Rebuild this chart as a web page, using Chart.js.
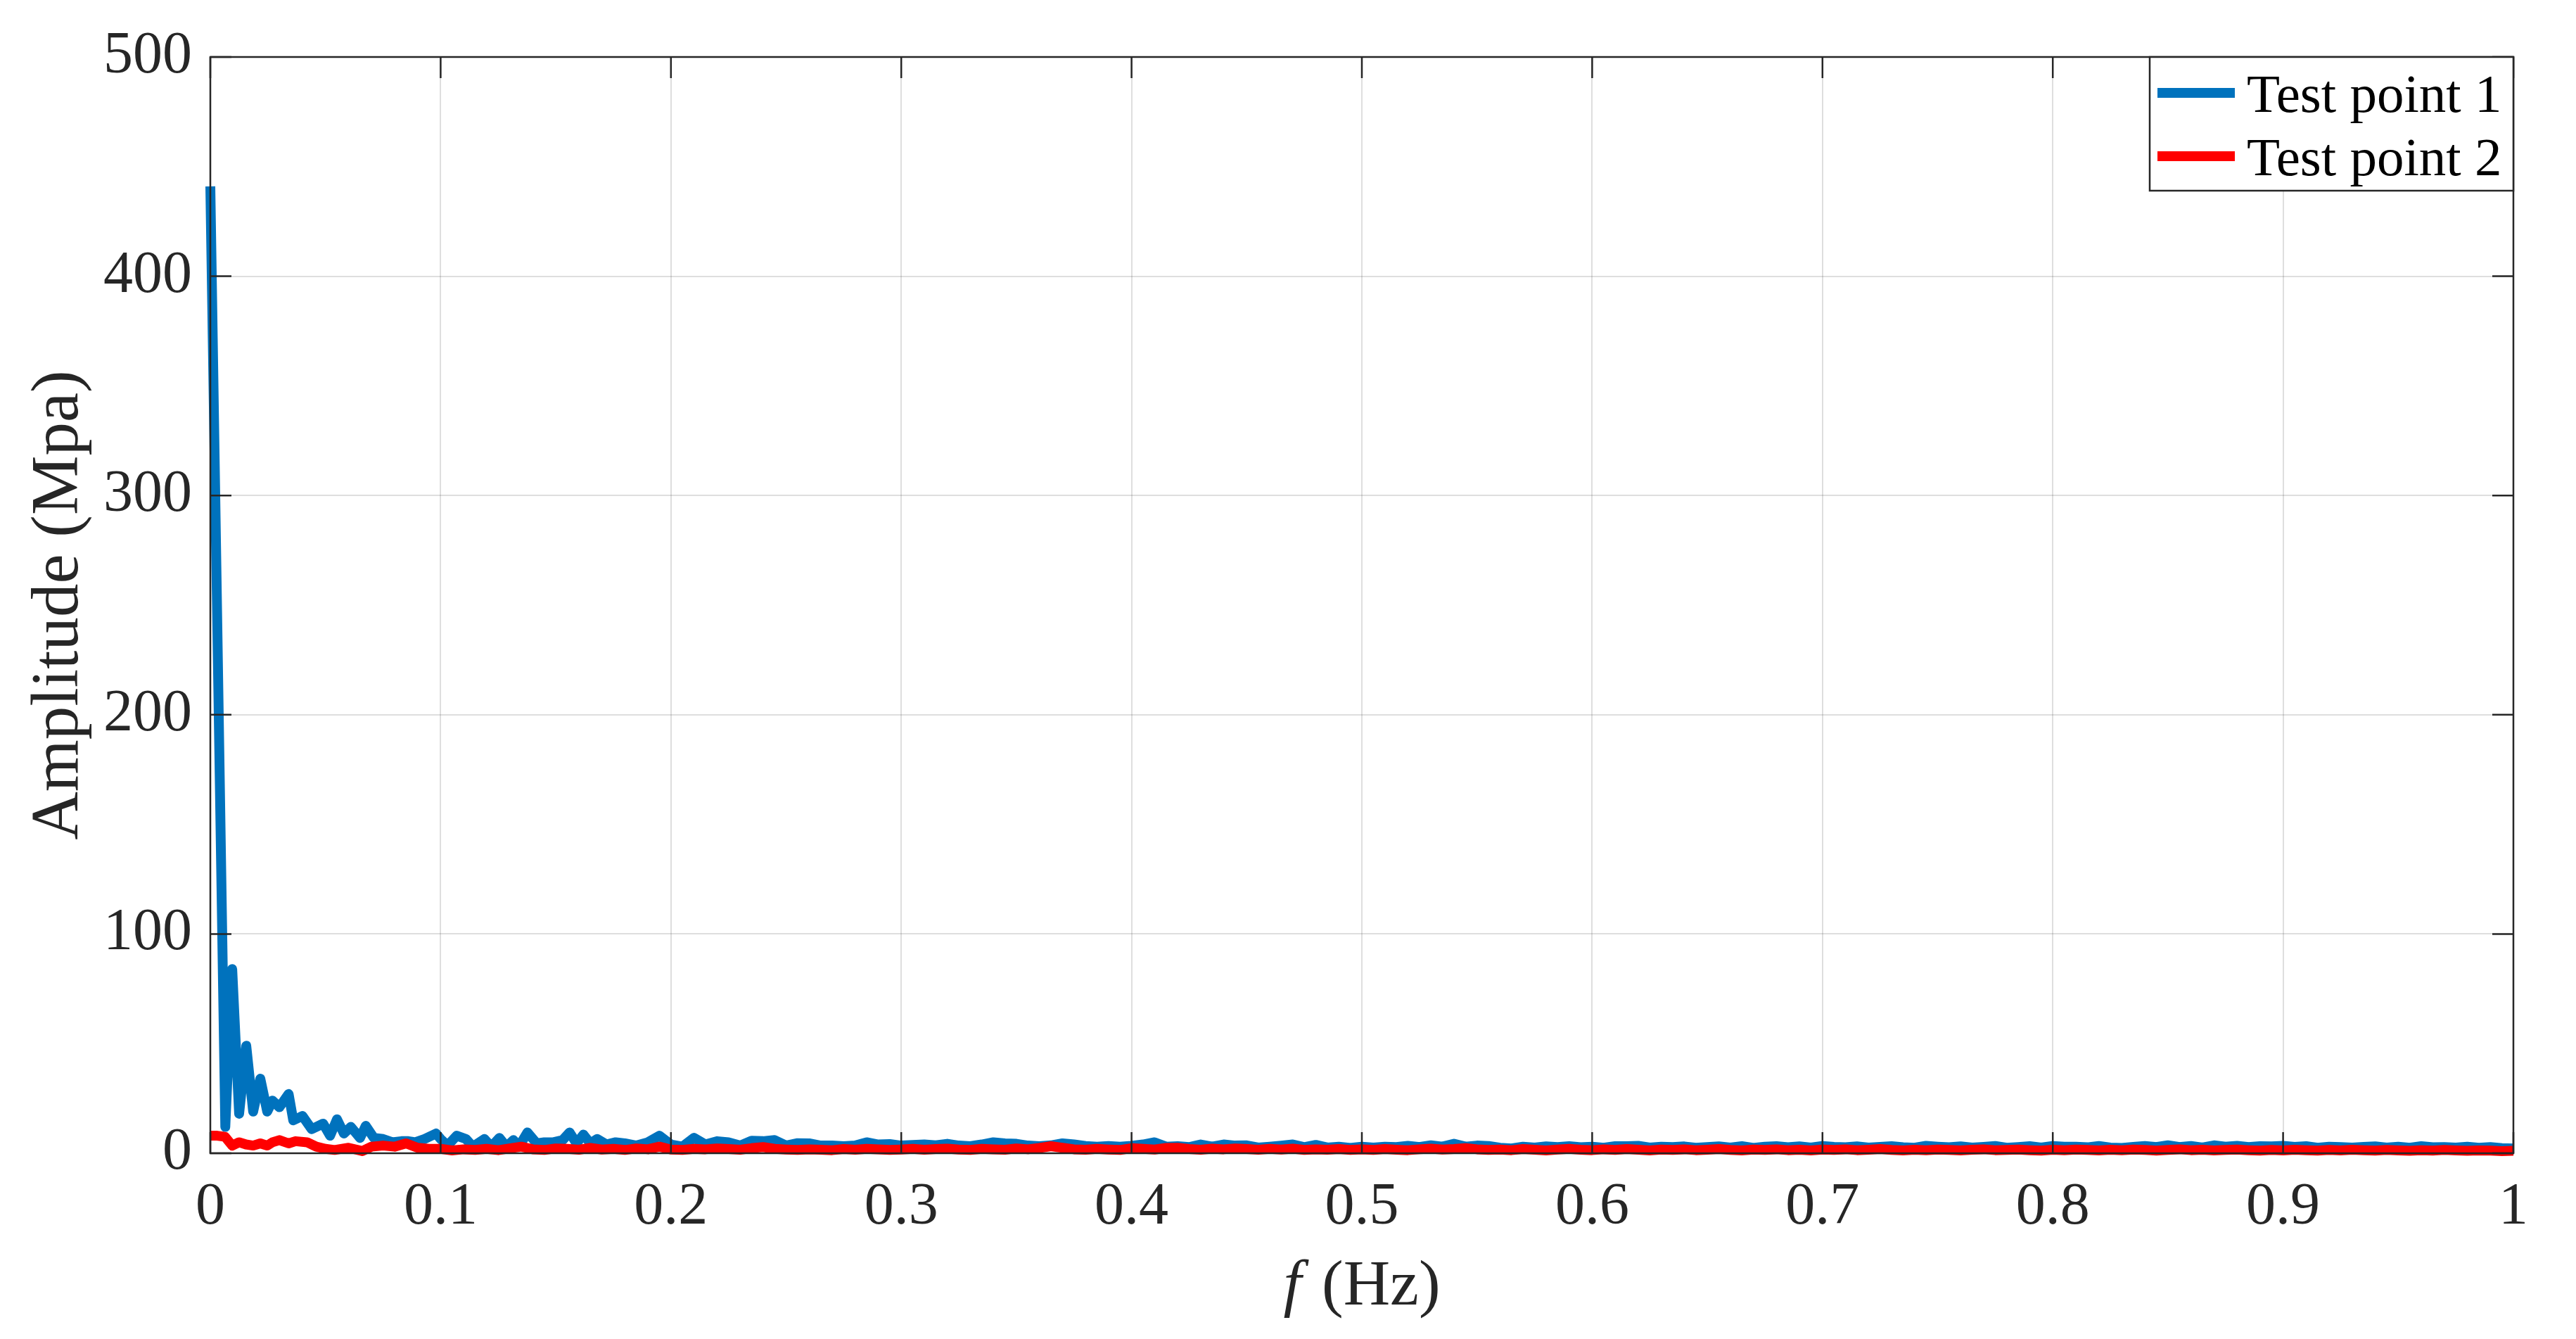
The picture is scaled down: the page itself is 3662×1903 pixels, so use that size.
<!DOCTYPE html>
<html>
<head>
<meta charset="utf-8">
<script src="https://cdn.jsdelivr.net/npm/chart.js@4.4.1/dist/chart.umd.min.js"></script>
<style>
html,body{margin:0;padding:0;background:#ffffff;}
#wrap{width:3662px;height:1903px;position:relative;}
canvas{display:block;}
</style>
</head>
<body>
<div id="wrap"><canvas id="c" width="3662" height="1903"></canvas></div>
<script>
// ---------------- data ----------------
const xTickValues = [0, 0.1, 0.2, 0.3, 0.4, 0.5, 0.6, 0.7, 0.8, 0.9, 1];
const xTickLabels = ['0', '0.1', '0.2', '0.3', '0.4', '0.5', '0.6', '0.7', '0.8', '0.9', '1'];
const yTickValues = [0, 100, 200, 300, 400, 500];
const yTickLabels = ['0', '100', '200', '300', '400', '500'];
const seriesNames = ['Test point 1', 'Test point 2'];
const xTitleItalic = 'f';
const xTitleRest = ' (Hz)';
const yTitle = 'Amplitude (Mpa)';

// frequency grid used for the tail of both spectra (0.100 ... 1.000)
const tailFreq = [
0.100,0.105,0.110,0.115,0.120,0.125,0.130,0.135,0.140,0.145,
0.150,0.155,0.160,0.165,0.170,0.175,0.180,0.185,0.190,0.195,
0.200,0.205,0.210,0.215,0.220,0.225,0.230,0.235,0.240,0.245,
0.250,0.255,0.260,0.265,0.270,0.275,0.280,0.285,0.290,0.295,
0.300,0.305,0.310,0.315,0.320,0.325,0.330,0.335,0.340,0.345,
0.350,0.355,0.360,0.365,0.370,0.375,0.380,0.385,0.390,0.395,
0.400,0.405,0.410,0.415,0.420,0.425,0.430,0.435,0.440,0.445,
0.450,0.455,0.460,0.465,0.470,0.475,0.480,0.485,0.490,0.495,
0.500,0.505,0.510,0.515,0.520,0.525,0.530,0.535,0.540,0.545,
0.550,0.555,0.560,0.565,0.570,0.575,0.580,0.585,0.590,0.595,
0.600,0.605,0.610,0.615,0.620,0.625,0.630,0.635,0.640,0.645,
0.650,0.655,0.660,0.665,0.670,0.675,0.680,0.685,0.690,0.695,
0.700,0.705,0.710,0.715,0.720,0.725,0.730,0.735,0.740,0.745,
0.750,0.755,0.760,0.765,0.770,0.775,0.780,0.785,0.790,0.795,
0.800,0.805,0.810,0.815,0.820,0.825,0.830,0.835,0.840,0.845,
0.850,0.855,0.860,0.865,0.870,0.875,0.880,0.885,0.890,0.895,
0.900,0.905,0.910,0.915,0.920,0.925,0.930,0.935,0.940,0.945,
0.950,0.955,0.960,0.965,0.970,0.975,0.980,0.985,0.990,0.995,
1.000];

// Test point 1 (blue): low-frequency part read point by point
const blueHeadFreq = [0, 0.0065, 0.0095, 0.0125, 0.0156, 0.0186, 0.0217, 0.0247, 0.027, 0.030,
  0.034, 0.036, 0.040, 0.044, 0.049, 0.052, 0.055, 0.058, 0.061, 0.065,
  0.0675, 0.071, 0.075, 0.079, 0.083, 0.086, 0.089, 0.093, 0.098, 0.100,
  0.103, 0.107, 0.111, 0.114, 0.119, 0.122, 0.1255, 0.1286, 0.1316, 0.134,
  0.1377, 0.1417, 0.145, 0.149, 0.153, 0.156, 0.159, 0.162, 0.165, 0.168,
  0.172, 0.176];
const blueHeadAmp = [441, 12, 84, 18, 49, 19, 34, 19, 24, 21,
  27, 15, 17, 11, 13.5, 8, 15.5, 9, 12, 7,
  12.5, 7, 6.5, 5, 5.5, 5.5, 5, 6.5, 9, 6.5,
  3.5, 8, 6.5, 3, 6.5, 3, 7, 3, 6, 3,
  9.5, 4.5, 5, 5, 6, 9.5, 4.5, 8.5, 4.5, 6.5,
  4, 5];
// Test point 1 (blue): 0.180 ... 1.000
const blueTailAmp = [
4.5,3.5,5,8,4,3,7,4,5.5,5,
3.5,5.7,5.5,6,3.5,4.6,4.5,3.5,3.5,3.2,
3.5,5,4,4.2,3.5,3.8,4,3.6,4.3,3.5,
3.2,4,5,4.5,4.3,3.5,3.2,3.6,4.5,4,
3.3,3,3.3,3,3.4,4,5,3,3.2,2.8,
4,3,4,3.5,3.6,2.6,3,3.5,4,2.8,
3.8,2.6,3,2.4,3,2.6,3,2.8,3.4,2.8,
3.6,3,4.3,3,3.5,3.3,2.5,2.2,3,2.6,
3.1,2.8,3.2,2.7,3,2.5,3.2,3.2,3.4,2.6,
3,2.8,3.1,2.5,2.8,3.1,2.6,3.2,2.4,3,
3.2,2.7,3.1,2.6,3.3,2.9,2.7,3.1,2.6,2.9,
3.2,2.7,2.5,3.4,3,2.7,3.1,2.6,2.9,3.3,
2.5,2.8,3.2,2.6,3.3,3,3,2.7,3.3,2.6,
2.4,2.9,3.3,2.8,3.6,2.8,3.3,2.6,3.6,3,
3.4,2.8,3.2,3.1,3.4,2.9,3.2,2.5,3,2.8,
2.6,2.9,3.1,2.6,3,2.5,3.2,2.7,2.8,2.6,
3,2.5,2.8,2.3,2.2];

// Test point 2 (red): low-frequency part
const redHeadFreq = [0, 0.003, 0.0064, 0.0095, 0.0125, 0.0155, 0.0186, 0.0217, 0.0247, 0.027,
  0.030, 0.034, 0.037, 0.042, 0.046, 0.050, 0.054, 0.060, 0.066, 0.070,
  0.075, 0.080, 0.085, 0.090, 0.095];
const redHeadAmp = [8, 8, 7.5, 3.5, 5, 4, 3.5, 4.5, 3.5, 5,
  6, 4.5, 5.5, 5, 3, 2, 1.5, 2.5, 1, 3,
  3.5, 3, 4.5, 2.5, 2];
// Test point 2 (red): 0.100 ... 1.000
const redTailAmp = [
2,1.3,1.8,1.5,2,1.4,2.2,3,1.8,1.5,
2.2,2,1.6,2.4,1.7,2,1.5,2.2,1.8,3,
1.7,1.5,2,1.8,2.2,1.9,1.6,2.3,2.8,2,
1.7,1.5,1.8,1.6,1.4,1.9,1.6,2,1.8,1.5,
1.7,2,1.6,1.9,2.1,1.7,1.5,2,1.8,1.6,
2.2,1.8,2.4,3.2,2.5,1.8,1.6,2,1.7,1.5,
2.3,2,1.7,2.4,2.5,1.9,1.6,2.1,1.8,2.2,
1.9,1.6,2,1.7,2.1,1.5,1.8,1.6,1.9,1.5,
1.8,1.5,1.9,1.6,1.4,1.8,2.1,1.7,1.9,2.3,
1.8,1.5,1.7,1.4,1.9,1.6,1.3,1.7,2,1.6,
1.4,1.8,1.5,1.9,1.6,1.3,1.7,1.5,1.8,1.4,
1.6,1.9,1.5,1.3,1.7,1.5,1.8,1.4,1.6,1.3,
1.7,1.5,1.8,1.4,1.6,1.9,1.5,1.3,1.6,1.4,
1.7,1.5,1.3,1.6,1.8,1.4,1.5,1.7,1.4,1.2,
1.6,1.4,1.7,1.5,1.3,1.6,1.4,1.7,1.5,1.2,
1.5,1.8,1.4,1.6,1.3,1.5,1.7,1.4,1.2,1.5,
1.3,1.6,1.4,1.2,1.5,1.3,1.6,1.4,1.2,1.5,
1.3,1.1,1.4,1.2,1.5,1.3,1.1,1.3,1.2,1.0,
1.1];

// ---------------- build datasets ----------------
const blueFreq = blueHeadFreq.concat(tailFreq.slice(16));
const blueAmp = blueHeadAmp.concat(blueTailAmp);
const redFreq = redHeadFreq.concat(tailFreq);
const redAmp = redHeadAmp.concat(redTailAmp);
const zip = (xs, ys) => xs.map((x, i) => ({x: x, y: ys[i]}));

const FONT = '"Liberation Serif", "Times New Roman", Times, serif';
const AXIS_COLOR = '#262626';
const BLUE = '#0072BD';
const RED = '#FF0000';

// draws MATLAB-style box, inward ticks, legend and the x-axis title
const matlabDecor = {
  id: 'matlabDecor',
  afterDatasetsDraw(chart) {
    const ctx = chart.ctx;
    const a = chart.chartArea;
    const xs = chart.scales.x, ys = chart.scales.y;
    ctx.save();
    // inward ticks
    ctx.strokeStyle = AXIS_COLOR;
    ctx.lineWidth = 2.5;
    const tl = 30;
    ctx.beginPath();
    xTickValues.forEach(v => {
      const px = xs.getPixelForValue(v);
      ctx.moveTo(px, a.bottom); ctx.lineTo(px, a.bottom - tl);
      ctx.moveTo(px, a.top); ctx.lineTo(px, a.top + tl);
    });
    yTickValues.forEach(v => {
      const py = ys.getPixelForValue(v);
      ctx.moveTo(a.left, py); ctx.lineTo(a.left + tl, py);
      ctx.moveTo(a.right, py); ctx.lineTo(a.right - tl, py);
    });
    ctx.stroke();
    // box
    ctx.strokeRect(a.left, a.top, a.right - a.left, a.bottom - a.top);

    // legend
    const lw = 517, lh = 190;
    const lx = a.right - lw, ly = a.top;
    ctx.fillStyle = '#ffffff';
    ctx.fillRect(lx, ly, lw, lh);
    ctx.lineWidth = 2.5;
    ctx.strokeStyle = AXIS_COLOR;
    ctx.strokeRect(lx, ly, lw, lh);
    const colors = [BLUE, RED];
    ctx.font = '77px ' + FONT;
    ctx.textAlign = 'left';
    ctx.textBaseline = 'alphabetic';
    seriesNames.forEach((name, i) => {
      const cy = ly + 51 + i * 90;
      ctx.strokeStyle = colors[i];
      ctx.lineWidth = 14;
      ctx.lineCap = 'butt';
      ctx.beginPath();
      ctx.moveTo(lx + 11, cy); ctx.lineTo(lx + 121, cy);
      ctx.stroke();
      ctx.fillStyle = '#000000';
      ctx.fillText(name, lx + 138, ly + 78 + i * 90);
    });

    // x-axis title: italic f + (Hz)
    ctx.fillStyle = AXIS_COLOR;
    ctx.textBaseline = 'alphabetic';
    const fItal = 'italic 92px ' + FONT;
    const fReg = '92px ' + FONT;
    ctx.font = fItal;
    const w1 = ctx.measureText(xTitleItalic).width + 6;
    ctx.font = fReg;
    const w2 = ctx.measureText(xTitleRest).width;
    const cx = (a.left + a.right) / 2;
    const startX = cx - (w1 + w2) / 2;
    const by = a.bottom + 215;
    ctx.font = fItal;
    ctx.fillText(xTitleItalic, startX, by);
    ctx.font = fReg;
    ctx.fillText(xTitleRest, startX + w1, by);
    ctx.restore();
  }
};

const ctx = document.getElementById('c').getContext('2d');
new Chart(ctx, {
  type: 'line',
  data: {
    datasets: [
      {
        label: seriesNames[0],
        data: zip(blueFreq, blueAmp),
        borderColor: BLUE,
        backgroundColor: BLUE,
        borderWidth: 14,
        pointRadius: 0,
        tension: 0,
        borderJoinStyle: 'round',
        borderCapStyle: 'butt',
        clip: 20,
        order: 1
      },
      {
        label: seriesNames[1],
        data: zip(redFreq, redAmp),
        borderColor: RED,
        backgroundColor: RED,
        borderWidth: 14,
        pointRadius: 0,
        tension: 0,
        borderJoinStyle: 'round',
        borderCapStyle: 'butt',
        clip: 20,
        order: 0
      }
    ]
  },
  options: {
    responsive: false,
    animation: false,
    devicePixelRatio: 1,
    parsing: true,
    layout: { padding: { left: 0, top: 81, right: 89, bottom: 0 } },
    plugins: {
      legend: { display: false },
      tooltip: { enabled: false },
      title: { display: false }
    },
    scales: {
      x: {
        type: 'linear',
        min: 0, max: 1,
        afterBuildTicks: s => { s.ticks = xTickValues.map(v => ({value: v})); },
        afterFit: s => { s.height = 264; },
        ticks: {
          color: AXIS_COLOR,
          font: { family: FONT, size: 84 },
          padding: 28,
          maxRotation: 0,
          autoSkip: false,
          callback: (v, i) => xTickLabels[i]
        },
        grid: { color: 'rgba(0,0,0,0.13)', lineWidth: 2, drawTicks: false },
        border: { display: false },
        title: { display: false }
      },
      y: {
        type: 'linear',
        min: 0, max: 500,
        afterBuildTicks: s => { s.ticks = yTickValues.map(v => ({value: v})); },
        afterFit: s => { s.width = 299; },
        ticks: {
          color: AXIS_COLOR,
          font: { family: FONT, size: 84 },
          padding: 26,
          autoSkip: false,
          callback: (v, i) => yTickLabels[i]
        },
        grid: { color: 'rgba(0,0,0,0.13)', lineWidth: 2, drawTicks: false },
        border: { display: false },
        title: {
          display: true,
          text: yTitle,
          color: AXIS_COLOR,
          font: { family: FONT, size: 95 },
          padding: { top: 28, bottom: 0 }
        }
      }
    }
  },
  plugins: [matlabDecor]
});
</script>
</body>
</html>
